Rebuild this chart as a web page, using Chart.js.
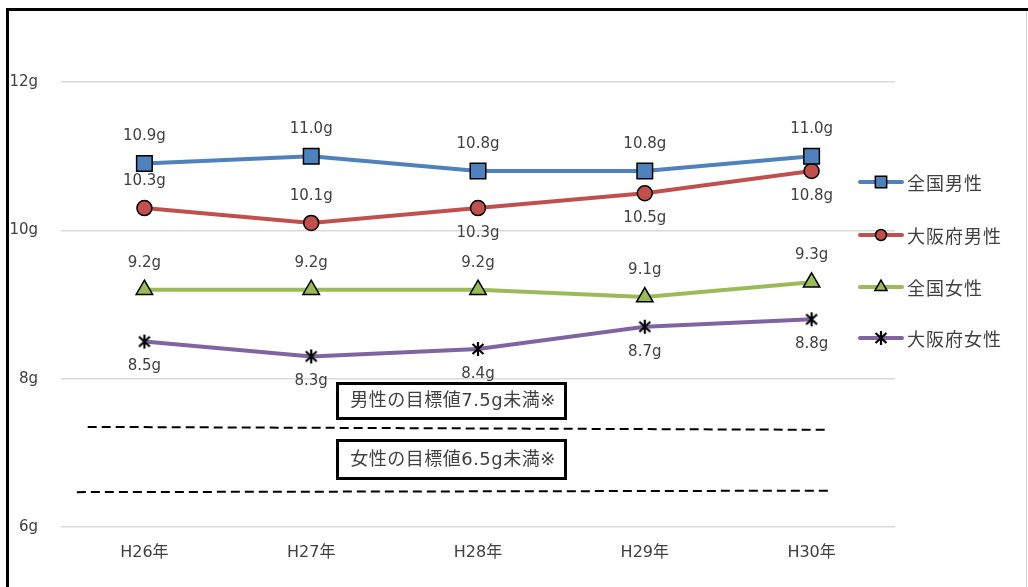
<!DOCTYPE html>
<html>
<head>
<meta charset="utf-8">
<script src="https://cdn.jsdelivr.net/npm/chart.js@4"></script>
<style>
    body { margin: 0; background: #fff; }
    canvas { display: block; }
</style>
</head>
<body>
<canvas id="saltChart" width="1028" height="587"></canvas>
<script>
// データ
const years = ['H26年', 'H27年', 'H28年', 'H29年', 'H30年'];
const zenkokuMale = [10.9, 11.0, 10.8, 10.8, 11.0];
const osakaMale = [10.3, 10.1, 10.3, 10.5, 10.8];
const zenkokuFemale = [9.2, 9.2, 9.2, 9.1, 9.3];
const osakaFemale = [8.5, 8.3, 8.4, 8.7, 8.8];
const seriesNames = ['全国男性', '大阪府男性', '全国女性', '大阪府女性'];

// ラベル位置 (上 / 下)
const labelPos = [
    ['up', 'up', 'up', 'up', 'up'],
    ['up', 'up', 'down', 'down', 'down'],
    ['up', 'up', 'up', 'up', 'up'],
    ['down', 'down', 'down', 'down', 'down']
];

// 目標値の破線 (x は 0〜1 の相対位置)
const maleTargetX = [0.032, 0.92];
const maleTargetY = [7.35, 7.31];
const femaleTargetX = [0.019, 0.922];
const femaleTargetY = [6.47, 6.49];
const targetTexts = ['男性の目標値7.5g未満※', '女性の目標値6.5g未満※'];

const FONT = '"DejaVu Sans", "Noto Sans CJK JP", sans-serif';
const JFONT = '"Noto Sans CJK JP", sans-serif';
const TEXT = '#404040';

// アスタリスクのマーカー
function makeStar() {
    const c = document.createElement('canvas');
    c.width = 16; c.height = 16;
    const g = c.getContext('2d');
    g.strokeStyle = '#000';
    g.lineWidth = 2.2;
    g.beginPath();
    g.moveTo(8, 1); g.lineTo(8, 15);
    g.moveTo(2.5, 3); g.lineTo(13.5, 13);
    g.moveTo(13.5, 3); g.lineTo(2.5, 13);
    g.stroke();
    return c;
}
const starImg = makeStar();

const styles = [
    { color: '#4f81bd', point: 'rect', radius: 11 },
    { color: '#c0504d', point: 'circle', radius: 7.5 },
    { color: '#9bbb59', point: 'triangle', radius: 9.5 },
    { color: '#8064a2', point: starImg, radius: 8 }
];

function lineSet(name, data, st) {
    return {
        label: name,
        data: data,
        xAxisID: 'x',
        borderColor: st.color,
        backgroundColor: st.color,
        borderWidth: 4,
        pointStyle: st.point,
        pointRadius: st.radius,
        pointBackgroundColor: st.color,
        pointBorderColor: '#000',
        pointBorderWidth: 1.5,
        tension: 0
    };
}

function dashSet(xs, ys) {
    return {
        data: xs.map((x, i) => ({ x: x, y: ys[i] })),
        xAxisID: 'x2',
        borderColor: '#000',
        borderWidth: 2,
        borderDash: [9, 5],
        pointRadius: 0
    };
}

const borderPlugin = {
    id: 'frame',
    beforeDraw(chart) {
        const ctx = chart.ctx;
        ctx.save();
        ctx.fillStyle = '#fff';
        ctx.fillRect(0, 0, chart.width, chart.height);
        ctx.strokeStyle = '#d0d0d0';
        ctx.lineWidth = 1;
        ctx.beginPath();
        ctx.moveTo(1026.5, 8); ctx.lineTo(1026.5, 587);
        ctx.stroke();
        ctx.strokeStyle = '#000';
        ctx.lineWidth = 3;
        ctx.beginPath();
        ctx.moveTo(7.5, 587); ctx.lineTo(7.5, 9.5); ctx.lineTo(1028, 9.5);
        ctx.stroke();
        ctx.restore();
    }
};

const labelPlugin = {
    id: 'labels',
    afterDatasetsDraw(chart) {
        const ctx = chart.ctx;
        ctx.save();
        ctx.font = '15px ' + FONT;
        ctx.fillStyle = TEXT;
        ctx.textAlign = 'center';
        ctx.textBaseline = 'middle';
        for (let d = 0; d < 4; d++) {
            const meta = chart.getDatasetMeta(d);
            const vals = chart.data.datasets[d].data;
            meta.data.forEach((pt, i) => {
                const dy = labelPos[d][i] === 'up' ? -27 : 25;
                ctx.fillText(vals[i].toFixed(1) + 'g', pt.x, pt.y + dy);
            });
        }

        // 目標値のテキストボックス
        const boxes = [[383, 418], [440, 478]];
        ctx.font = '18px ' + FONT;
        ctx.letterSpacing = '0.5px';
        targetTexts.forEach((t, i) => {
            const [top, bottom] = boxes[i];
            ctx.fillStyle = '#fff';
            ctx.fillRect(337, top, 229, bottom - top);
            ctx.strokeStyle = '#000';
            ctx.lineWidth = 3;
            ctx.strokeRect(337.5, top + 0.5, 228, bottom - top);
            ctx.fillStyle = TEXT;
            ctx.fillText(t, 453, (top + bottom) / 2 + 1);
        });

        // 凡例
        const rows = [182, 235, 287, 338];
        ctx.textAlign = 'left';
        ctx.font = '18px ' + JFONT;
        ctx.letterSpacing = '1px';
        styles.forEach((st, i) => {
            const y = rows[i];
            ctx.strokeStyle = st.color;
            ctx.lineWidth = 4;
            ctx.lineCap = 'round';
            ctx.beginPath();
            ctx.moveTo(860, y); ctx.lineTo(902, y);
            ctx.stroke();
            ctx.fillStyle = st.color;
            ctx.strokeStyle = '#000';
            ctx.lineWidth = 1.5;
            const r = st.point === 'rect' ? 8 : st.point === 'circle' ? 5.5 : st.point === 'triangle' ? 7 : 6;
            Chart.helpers.drawPoint(ctx, { pointStyle: st.point, radius: r, borderWidth: 1.5, rotation: 0 }, 881, y);
            ctx.fillStyle = TEXT;
            ctx.fillText(seriesNames[i], 907, y + 1);
        });
        ctx.restore();
    }
};

const ctx = document.getElementById('saltChart').getContext('2d');
const saltChart = new Chart(ctx, {
    type: 'line',
    data: {
        labels: years,
        datasets: [
            lineSet(seriesNames[0], zenkokuMale, styles[0]),
            lineSet(seriesNames[1], osakaMale, styles[1]),
            lineSet(seriesNames[2], zenkokuFemale, styles[2]),
            lineSet(seriesNames[3], osakaFemale, styles[3]),
            dashSet(maleTargetX, maleTargetY),
            dashSet(femaleTargetX, femaleTargetY)
        ]
    },
    options: {
        responsive: false,
        animation: false,
        layout: {
            padding: { left: 0, right: 133, top: 82, bottom: 0 }
        },
        plugins: {
            legend: { display: false },
            tooltip: { enabled: false }
        },
        scales: {
            x: {
                type: 'category',
                offset: true,
                grid: { display: false, drawTicks: false },
                border: { display: false },
                ticks: {
                    color: TEXT,
                    padding: 16,
                    font: { family: FONT, size: 16 }
                },
                afterFit(s) { s.height = 60; }
            },
            x2: {
                type: 'linear',
                min: 0,
                max: 1,
                display: false
            },
            y: {
                min: 6,
                max: 12,
                ticks: {
                    stepSize: 2,
                    color: TEXT,
                    padding: 23,
                    font: { family: FONT, size: 15 },
                    callback: v => v + 'g'
                },
                grid: { color: '#d9d9d9', lineWidth: 1.5, drawTicks: false },
                border: { display: false },
                afterFit(s) { s.width = 61; }
            }
        }
    },
    plugins: [borderPlugin, labelPlugin]
});
</script>
</body>
</html>
